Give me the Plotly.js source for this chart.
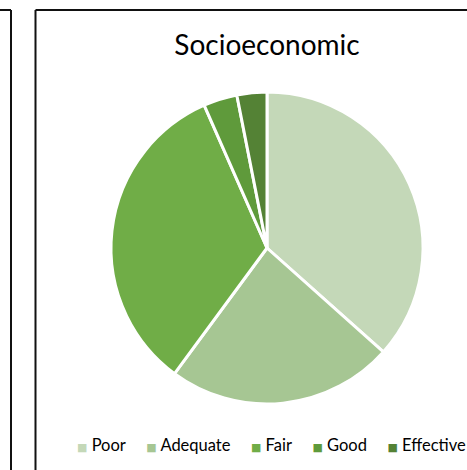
<!DOCTYPE html>
<html>
<head>
<meta charset="utf-8">
<script src="https://cdn.plot.ly/plotly-3.0.1.min.js"></script>
<style>
html,body{margin:0;padding:0;background:#fff;}
#chart{width:467px;height:470px;}
</style>
</head>
<body>
<div id="chart"></div>
<script>
const categories = ["Poor", "Adequate", "Fair", "Good", "Effective"];
const values = [36.6, 23.5, 33.3, 3.5, 3.1];
const colors = ["#c4d8b8", "#a6c693", "#70ad47", "#5f9a3b", "#548235"];
const chartTitle = "Socioeconomic";

const W = 467, H = 470;
const px = x => x / W;
const py = y => 1 - y / H;

const legendText = categories.map((c, i) =>
  '<span style="color:' + colors[i] + ';font-size:11px;font-family:DejaVu Sans">\u25A0</span>\u00A0' + c
).join('<span style="font-size:20px">\u00A0\u00A0\u00A0\u00A0</span>');

const trace = {
  type: 'pie',
  labels: categories,
  values: values,
  sort: false,
  direction: 'clockwise',
  rotation: 0,
  textinfo: 'none',
  hoverinfo: 'label+percent',
  marker: {colors: colors, line: {color: '#ffffff', width: 3}},
  domain: {x: [px(111), px(423)], y: [py(404), py(92)]},
  showlegend: false
};

const lineStyle = {color: '#111', width: 2};
const layout = {
  width: W, height: H,
  margin: {l: 0, r: 0, t: 0, b: 0},
  paper_bgcolor: '#fff',
  showlegend: false,
  title: {
    text: chartTitle,
    font: {family: 'Lato, sans-serif', size: 28, color: '#000'},
    x: px(267), xanchor: 'center',
    y: py(45), yanchor: 'middle', yref: 'container'
  },
  annotations: [{
    text: legendText,
    xref: 'paper', yref: 'paper',
    x: px(75), y: py(443), xanchor: 'left', yanchor: 'middle',
    showarrow: false,
    font: {family: 'Lato, sans-serif', size: 16.5, color: '#000'}
  }],
  shapes: [
    {type: 'line', xref: 'paper', yref: 'paper', x0: px(0), x1: px(11), y0: py(10), y1: py(10), line: lineStyle},
    {type: 'line', xref: 'paper', yref: 'paper', x0: px(11), x1: px(11), y0: py(10), y1: py(472), line: lineStyle},
    {type: 'line', xref: 'paper', yref: 'paper', x0: px(35.5), x1: px(470), y0: py(10), y1: py(10), line: lineStyle},
    {type: 'line', xref: 'paper', yref: 'paper', x0: px(35.5), x1: px(35.5), y0: py(10), y1: py(472), line: lineStyle}
  ]
};

Plotly.newPlot('chart', [trace], layout, {displayModeBar: false, staticPlot: true});
</script>
</body>
</html>
